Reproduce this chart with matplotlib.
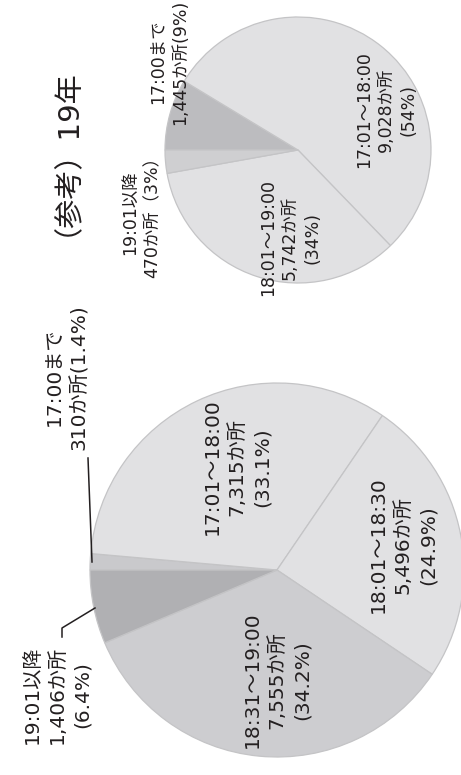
import numpy as np
import matplotlib
matplotlib.use("Agg")
import matplotlib.pyplot as plt

plt.rcParams['font.family'] = ['DejaVu Sans', 'Noto Sans CJK JP']

# 今年のデータ（時間帯別の箇所数）
labels_big = ['17:00まで', '17:01〜18:00', '18:01〜18:30', '18:31〜19:00', '19:01以降']
counts_big = [310, 7315, 5496, 7555, 1406]
pct_big = ['1.4%', '33.1%', '24.9%', '34.2%', '6.4%']
colors_big = ['#c9c9cc', '#e1e1e3', '#e1e1e3', '#cdcdd0', '#b0b0b3']

# （参考）19年
labels_small = ['17:00まで', '17:01〜18:00', '18:01〜19:00', '19:01以降']
counts_small = [1445, 9028, 5742, 470]
pct_small = ['9%', '54%', '34%', '3%']
colors_small = ['#bcbcbf', '#e1e1e3', '#e1e1e3', '#cfcfd1']

W, H = 461, 775
fig = plt.figure(figsize=(W / 100, H / 100), dpi=100)
ax = fig.add_axes([0, 0, 1, 1])

txt = '#231f20'
edge = dict(edgecolor='#c4c4c6', linewidth=0.9)

# 大きい円グラフ（図全体が90度回転している）
ax.pie(counts_big, colors=colors_big, startangle=180, counterclock=False,
       center=(277, H - 570), radius=187, wedgeprops=edge, frame=True)

# 小さい円グラフ
ax.pie(counts_small, colors=colors_small, startangle=180, counterclock=False,
       center=(298, H - 150), radius=133, wedgeprops=edge, frame=True)
ax.set_xlim(0, W)
ax.set_ylim(0, H)
ax.set_aspect('equal')
ax.axis('off')

def lab(x, y, s, size, ls=1.4):
    ax.text(x, H - y, s, rotation=90, ha='center', va='center',
            multialignment='center', fontsize=size, color=txt, linespacing=ls)

# 大きい円のラベル
bs = 14.5
lab(237, 467, f'{labels_big[1]}\n{counts_big[1]:,}か所\n({pct_big[1]})', bs)
lab(403, 545, f'{labels_big[2]}\n{counts_big[2]:,}か所\n({pct_big[2]})', bs)
lab(277, 680, f'{labels_big[3]}\n{counts_big[3]:,}か所\n({pct_big[3]})', bs)
lab(57, 695, f'{labels_big[4]}\n{counts_big[4]:,}か所\n({pct_big[4]})', bs)
lab(67, 377, f'{labels_big[0]}\n{counts_big[0]}か所({pct_big[0]})', bs)

# 引き出し線
ax.plot([88, 92], [H - 458, H - 562], color=txt, lw=1.1)
ax.plot([62, 62, 95], [H - 637, H - 628, H - 608], color=txt, lw=1.1)

# 小さい円のラベル
ss = 12.5
lab(386, 110, f'{labels_small[1]}\n{counts_small[1]:,}か所\n({pct_small[1]})', ss, 1.3)
lab(290, 238, f'{labels_small[2]}\n{counts_small[2]:,}か所\n({pct_small[2]})', ss, 1.3)
lab(141, 213, f'{labels_small[3]}\n{counts_small[3]}か所（{pct_small[3]}）', ss, 1.3)
lab(169, 62, f'{labels_small[0]}\n{counts_small[0]:,}か所({pct_small[0]})', ss, 1.3)

# タイトル
ax.text(52, H - 145, '（参考）19年', rotation=90, ha='center', va='center',
        fontsize=21, color=txt)

fig.savefig('out.png', dpi=100)
